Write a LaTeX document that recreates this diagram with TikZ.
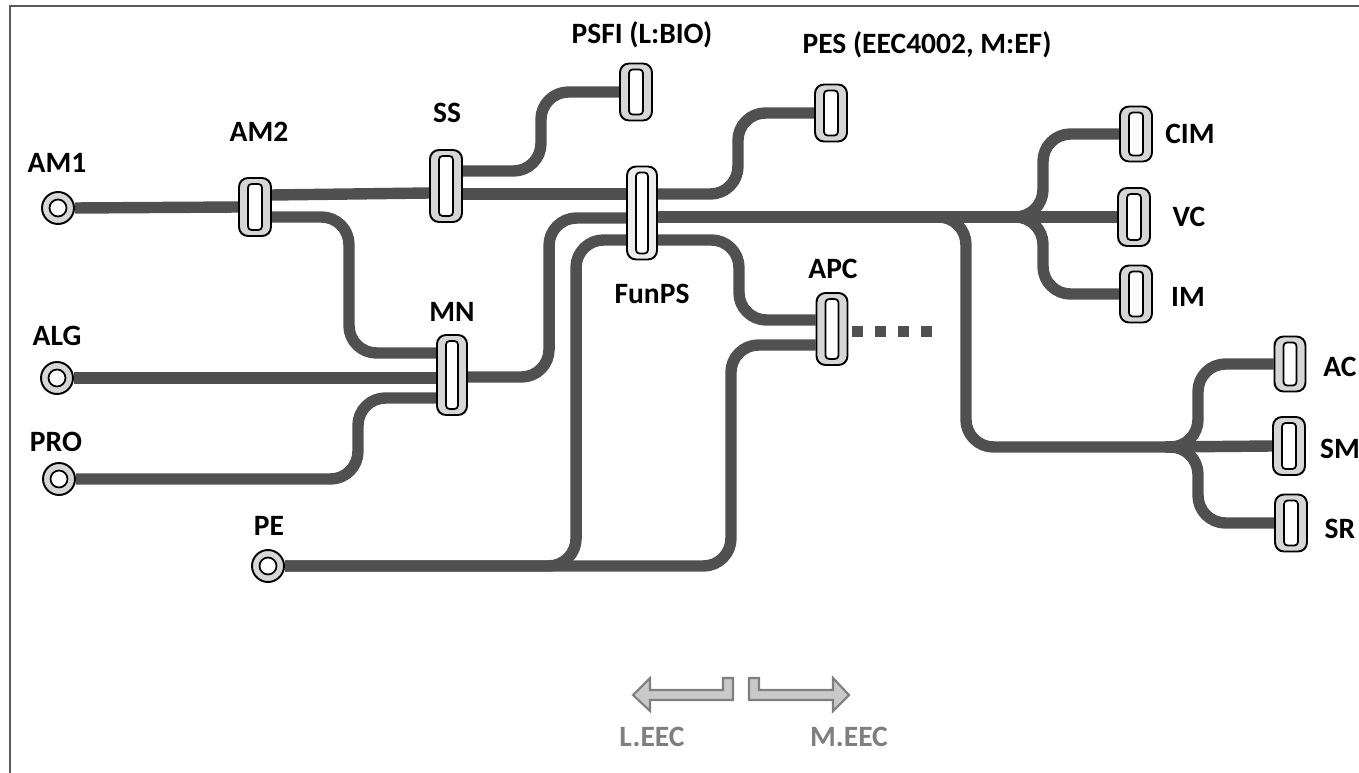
\documentclass[tikz,border=0pt]{standalone}
\usepackage{fontspec}
\setmainfont{Carlito}
\usetikzlibrary{calc}
\definecolor{trackgray}{HTML}{505050}
\definecolor{jackfill}{HTML}{D6D6D6}
\definecolor{funfill}{HTML}{EDEDED}
\definecolor{framegray}{HTML}{5A5A5A}
\definecolor{hintgray}{HTML}{7F7F7F}
\definecolor{hintfill}{HTML}{C9C9C9}
\pgfdeclarelayer{tracks}
\pgfsetlayers{tracks,main}

\begin{document}
\begin{tikzpicture}[x=0.02cm, y=-0.02cm,
  track/.style={trackgray, line width=6.5pt, rounded corners=0.55cm},
  jack/.style={draw=black, line width=1.1pt, fill=jackfill, rounded corners=0.18cm,
    minimum width=0.64cm, minimum height=1.16cm, inner sep=0pt,
    path picture={\draw[black, line width=1pt, fill=white, rounded corners=0.07cm]
      ($(path picture bounding box.south west)+(9,-6)$) rectangle ($(path picture bounding box.north east)+(-9,6)$);}},
  port/.style={circle, draw=black, line width=1.1pt, fill=jackfill, minimum size=0.64cm, inner sep=0pt,
    path picture={\draw[black, line width=1pt, fill=white] (path picture bounding box.center) circle (0.17cm);}},
  lbl/.style={font=\bfseries\fontsize{16.8}{19}\selectfont},
  hint/.style={hintgray, line width=1.2pt, fill=hintfill}]
  \useasboundingbox (0,0) rectangle (1359,773);
  \draw[framegray, line width=1pt] (1359,6) -- (10,6) -- (10,773);

  \node[port] (AM1) at (58,208) {};
  \node[lbl] (lAM1) at (57,163) {AM1};
  \node[port] (ALG) at (57,378) {};
  \node[lbl] (lALG) at (57,336) {ALG};
  \node[port] (PRO) at (59,479) {};
  \node[lbl] (lPRO) at (56,442) {PRO};
  \node[port] (PE) at (268,566) {};
  \node[lbl] (lPE) at (269,526) {PE};

  \node[jack] (AM2) at (255,207) {};
  \node[lbl] (lAM2) at (259,132) {AM2};
  \node[jack, minimum height=1.44cm] (SS) at (446,186) {};
  \node[lbl] (lSS) at (447,113) {SS};
  \node[jack, minimum height=1.14cm] (PSFI) at (636,92) {};
  \node[lbl] (lPSFI) at (642,35) {PSFI (L:BIO)};
  \node[jack, minimum height=1.14cm] (PES) at (831,113) {};
  \node[lbl] (lPES) at (927,45) {PES (EEC4002, M:EF)};
  \node[jack, fill=funfill, minimum width=0.6cm, minimum height=1.86cm] (FunPS) at (642,213) {};
  \node[lbl] (lFunPS) at (652,294) {FunPS};
  \node[jack, minimum width=0.6cm, minimum height=1.6cm] (MN) at (452,375) {};
  \node[lbl] (lMN) at (452,312) {MN};
  \node[jack, minimum width=0.62cm, minimum height=1.44cm] (APC) at (832,329) {};
  \node[lbl] (lAPC) at (833,269) {APC};

  \node[jack, minimum height=1.1cm] (CIM) at (1136,134) {};
  \node[lbl] (lCIM) at (1190,134) {CIM};
  \node[jack] (VC) at (1134,217) {};
  \node[lbl] (lVC) at (1189,217) {VC};
  \node[jack, minimum height=1.14cm] (IM) at (1136,294) {};
  \node[lbl] (lIM) at (1188,297) {IM};
  \node[jack, minimum width=0.62cm, minimum height=1.1cm] (AC) at (1290,364) {};
  \node[lbl] (lAC) at (1340,367) {AC};
  \node[jack] (SM) at (1289,446) {};
  \node[lbl] (lSM) at (1340,449) {SM};
  \node[jack, minimum height=1.14cm] (SR) at (1291,523) {};
  \node[lbl] (lSR) at (1340,529) {SR};

  \coordinate (split1) at (1010,217);
  \coordinate (split2) at (1165,447);

  \begin{pgfonlayer}{tracks}
    \draw[track] (AM1.east) -- (AM2.west);
    \draw[track] ($(AM2.east)+(0,-12)$) -- ($(SS.west)+(0,7)$);
    \draw[track] ($(AM2.east)+(0,10)$) -- ++(77,0) |- ($(MN.west)+(0,-22)$);
    \draw[track] ($(SS.east)+(0,-15)$) -- ++(78,0) |- (PSFI.west);
    \draw[track] ($(SS.east)+(0,8)$) -- ($(FunPS.west)+(0,-19)$);
    \draw[track] ($(FunPS.east)+(0,-19)$) -- ++(80,0) |- (PES.west);
    \draw[track] ($(FunPS.east)+(0,4)$) -- (split1);
    \draw[track] (split1) -- ++(33,0) |- (CIM.west);
    \draw[track] (split1) -- (VC.west);
    \draw[track] (split1) -- ++(33,0) |- (IM.west);
    \draw[track] ($(FunPS.east)+(0,4)$) -- ++(308,0) |- (split2);
    \draw[track] (split2) -- ++(33,0) |- (AC.west);
    \draw[track] (split2) -- (SM.west);
    \draw[track] (split2) -- ++(33,0) |- (SR.west);
    \draw[track] ($(FunPS.east)+(0,27)$) -- ++(81,0) |- ($(APC.west)+(0,-9)$);
    \draw[track] ($(FunPS.west)+(0,5)$) -- ++(-77,0) |- ($(MN.east)+(0,2)$);
    \draw[track] ($(FunPS.west)+(0,27)$) -- ++(-50,0) |- (PE.east);
    \draw[track] (PE.east) -- ++(446,0) |- ($(APC.west)+(0,16)$);
    \draw[track] (ALG.east) -- (ALG.east -| MN.west);
    \draw[track] (PRO.east) -- ++(282,0) |- ($(MN.west)+(0,23)$);
  \end{pgfonlayer}
  \draw[trackgray, line width=0.22cm, dash pattern=on 0.22cm off 0.24cm] ($(APC.east)+(4,3)$) -- ++(84,0);

  \draw[hint] (733,678) -- (733,700) -- (650,700) -- (650,711) -- (633,695) -- (650,678) -- (650,690) -- (723,690) -- (723,678) -- cycle;
  \draw[hint] (749,678) -- (749,700) -- (833,700) -- (833,711) -- (849,695) -- (833,678) -- (833,690) -- (759,690) -- (759,678) -- cycle;
  \node[lbl, hintgray] (lLEEC) at (652,737) {L.EEC};
  \node[lbl, hintgray] (lMEEC) at (849,737) {M.EEC};
\end{tikzpicture}
\end{document}
